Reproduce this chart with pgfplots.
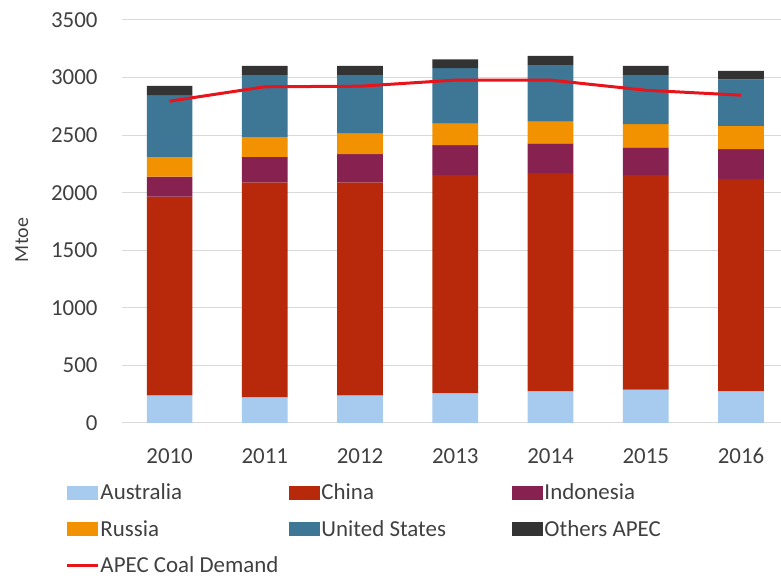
\documentclass[border=0pt]{standalone}
\usepackage{fontspec}
\setmainfont{Carlito}
\usepackage{pgfplots}
\usepackage{pgfplotstable}
\pgfplotsset{compat=1.18}
\definecolor{aus}{HTML}{A6CBEE}
\definecolor{chn}{HTML}{B8290B}
\definecolor{idn}{HTML}{87214F}
\definecolor{rus}{HTML}{F39200}
\definecolor{usa}{HTML}{3E7696}
\definecolor{oth}{HTML}{333333}
\definecolor{dem}{HTML}{E8141B}
\definecolor{gridc}{HTML}{D9D9D9}
\definecolor{txt}{HTML}{404040}
\pgfplotstableread{
x Aus China Indo Russia US Others Demand
0 240 1725 174 173 535 81 2795
1 225 1865 222 173 538 78 2920
2 240 1850 245 182 506 78 2925
3 260 1893 260 188 480 78 2978
4 277 1893 258 190 492 78 2978
5 289 1864 240 202 428 78 2890
6 277 1841 260 203 404 73 2847
}\data
\pgfplotsset{
  barleg/.style={legend image code/.code={\fill[##1] (0bp,-7bp) rectangle (31bp,7bp);}},
}
\begin{document}
\begin{tikzpicture}
\begin{axis}[
  at={(122bp,157bp)}, anchor=south west,
  scale only axis, width=659bp, height=403bp,
  ybar stacked, bar width=0.48, reverse stacked plots=false,
  xmin=-0.5, xmax=6.42, ymin=0, ymax=3500,
  ytick={0,500,...,3500},
  xtick={0,...,6}, xticklabels={2010,2011,2012,2013,2014,2015,2016},
  minor xtick={-0.5,0.5,...,6.5},
  ymajorgrids, major grid style={gridc, line width=1bp},
  axis x line*=bottom, axis y line*=left,
  x axis line style={gridc, line width=1bp, -},
  y axis line style={draw=none},
  tick align=outside,
  xtick style={draw=none}, ytick style={draw=none},
  minor x tick style={gridc, line width=1bp},
  minor tick length=6bp,
  tick label style={font=\fontsize{23}{27}\selectfont, text=txt},
  /pgf/number format/assume math mode=true,
  /pgf/number format/1000 sep={},
  yticklabel style={anchor=east, inner sep=0pt, xshift=-20bp},
  xticklabel style={anchor=north, inner sep=0pt, yshift=-21bp},
  ylabel={Mtoe},
  ylabel style={at={(rel axis cs:-0.152,0.454)}, anchor=center, font=\fontsize{20}{24}\selectfont, text=txt},
  legend columns=3,
  legend style={at={(rel axis cs:-0.083,-0.143)}, anchor=north west, xshift=-5bp, draw=none, fill=none,
    font=\fontsize{23}{27}\selectfont, text=txt, cells={anchor=west}, row sep=17bp,
    nodes={inner sep=1bp}},
]
\addplot[fill=aus, draw=none, barleg] table[x=x, y=Aus]{\data};
\addlegendentry{\makebox[188bp][l]{Australia}}
\addplot[fill=chn, draw=none, barleg] table[x=x, y=China]{\data};
\addlegendentry{\makebox[190bp][l]{China}}
\addplot[fill=idn, draw=none, barleg] table[x=x, y=Indo]{\data};
\addlegendentry{Indonesia}
\addplot[fill=rus, draw=none, barleg] table[x=x, y=Russia]{\data};
\addlegendentry{Russia}
\addplot[fill=usa, draw=none, barleg] table[x=x, y=US]{\data};
\addlegendentry{United States}
\addplot[fill=oth, draw=none, barleg] table[x=x, y=Others]{\data};
\addlegendentry{Others APEC}
\addplot[dem, line width=3bp, sharp plot, stack plots=false,
  legend image code/.code={\draw[dem, line width=3bp] (0bp,0bp) -- (31bp,0bp);}]
  table[x=x, y=Demand]{\data};
\addlegendentry{APEC Coal Demand}
\end{axis}
\pgfresetboundingbox
\path[use as bounding box] (0,0) rectangle (781bp,580bp);
\end{tikzpicture}
\end{document}
